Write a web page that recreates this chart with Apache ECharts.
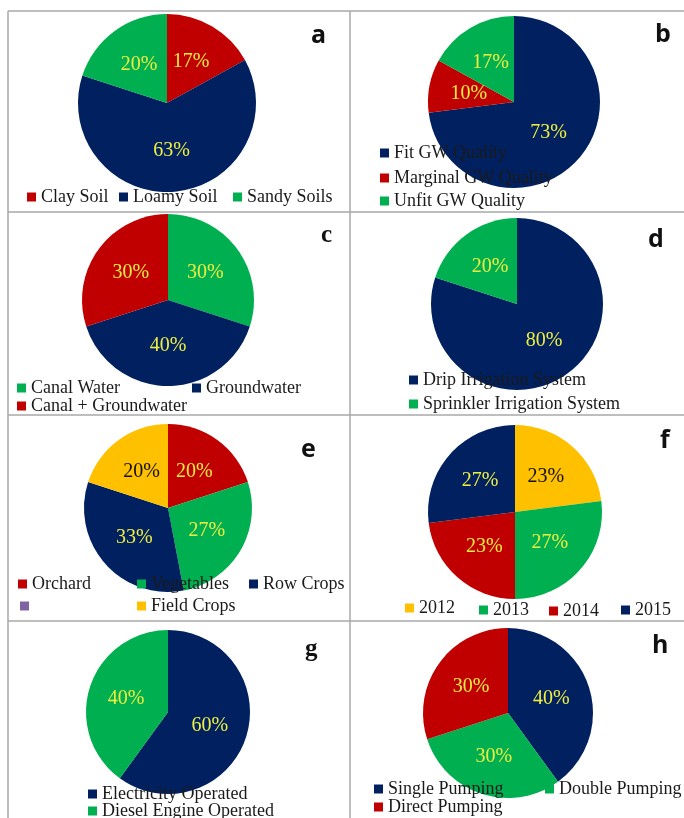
<!DOCTYPE html>
<html>
<head>
<meta charset="utf-8">
<title>Pie panels a-h</title>
<script src="https://cdn.jsdelivr.net/npm/echarts@6/dist/echarts.min.js"></script>
<style>
  html, body { margin: 0; padding: 0; background: #fff; }
  #main { width: 684px; height: 818px; }
</style>
</head>
<body>
<div id="main"></div>
<script>
// colours
var NAVY = '#002060', RED = '#C00000', GREEN = '#00B050', GOLD = '#FFC000', PURPLE = '#8064A2';

// a - soil
var soilNames = ['Clay Soil', 'Loamy Soil', 'Sandy Soils'];
var soilValues = [17, 63, 20];
var soilColors = [RED, NAVY, GREEN];

// b - groundwater quality
var gwNames = ['Fit GW Quality', 'Marginal GW Quality', 'Unfit GW Quality'];
var gwValues = [73, 10, 17];
var gwColors = [NAVY, RED, GREEN];

// c - water source
var srcNames = ['Canal Water', 'Groundwater', 'Canal + Groundwater'];
var srcValues = [30, 40, 30];
var srcColors = [GREEN, NAVY, RED];

// d - irrigation system
var irrNames = ['Drip Irrigation System', 'Sprinkler Irrigation System'];
var irrValues = [80, 20];
var irrColors = [NAVY, GREEN];

// e - crops (the purple entry is empty in the source)
var cropNames = ['Orchard', 'Vegetables', 'Row Crops', ' ', 'Field Crops'];
var cropValues = [20, 27, 33, 0, 20];
var cropColors = [RED, GREEN, NAVY, PURPLE, GOLD];

// f - years
var yearNames = ['2012', '2013', '2014', '2015'];
var yearValues = [23, 27, 23, 27];
var yearColors = [GOLD, GREEN, RED, NAVY];

// g - pump power
var powerNames = ['Electricity Operated', 'Diesel Engine Operated'];
var powerValues = [60, 40];
var powerColors = [NAVY, GREEN];

// h - pumping type
var pumpNames = ['Single Pumping', 'Double Pumping', 'Direct Pumping'];
var pumpValues = [40, 30, 30];
var pumpColors = [NAVY, GREEN, RED];

// panel layout: pie centre/radius, letter spot, legend item spots [markerX, centreY]
var panels = [
  { letter: 'a', names: soilNames, values: soilValues, colors: soilColors, center: [167, 103], r: 89,
    tag: [318, 38], legend: [[27, 198], [119, 198], [233, 198]] },
  { letter: 'b', names: gwNames, values: gwValues, colors: gwColors, center: [514, 102], r: 86,
    tag: [662, 37], legend: [[380, 154], [380, 179], [380, 202]] },
  { letter: 'c', names: srcNames, values: srcValues, colors: srcColors, center: [168, 300], r: 86,
    tag: [328, 238], legend: [[17, 389], [192, 389], [17, 407]], serifTag: true },
  { letter: 'd', names: irrNames, values: irrValues, colors: irrColors, center: [517, 304], r: 86,
    tag: [655, 242], legend: [[409, 381], [409, 405]] },
  { letter: 'e', names: cropNames, values: cropValues, colors: cropColors, center: [168, 508], r: 84,
    tag: [308, 452], legend: [[18, 585], [137, 585], [249, 585], [20, 607], [137, 607]] },
  { letter: 'f', names: yearNames, values: yearValues, colors: yearColors, center: [515, 512], r: 87,
    tag: [667, 443], legend: [[405, 609], [479, 611], [549, 612], [621, 611]] },
  { letter: 'g', names: powerNames, values: powerValues, colors: powerColors, center: [168, 712], r: 82,
    tag: [312, 652], legend: [[88, 795], [88, 812]], serifTag: true },
  { letter: 'h', names: pumpNames, values: pumpValues, colors: pumpColors, center: [508, 713], r: 85,
    tag: [659, 648], legend: [[374, 790], [545, 790], [374, 808]] }
];

var serif = 'Liberation Serif';
var series = [], legends = [], graphics = [];

panels.forEach(function (p) {
  series.push({
    type: 'pie',
    center: p.center,
    radius: p.r,
    startAngle: 90,
    clockwise: true,
    silent: true,
    animation: false,
    label: { show: true, position: 'inside', formatter: '{c}%', fontFamily: serif, fontSize: 20, color: '#eeee40' },
    labelLine: { show: false },
    itemStyle: { borderWidth: 0 },
    data: p.names.map(function (n, i) {
      var item = { name: n, value: p.values[i], itemStyle: { color: p.colors[i] } };
      if (p.colors[i] === GOLD) item.label = { color: '#111' };
      if (p.values[i] === 0) item.label = { show: false };
      return item;
    })
  });
  p.names.forEach(function (n, i) {
    var pos = p.legend[i];
    legends.push({
      left: pos[0], top: pos[1] - 10,
      data: [n], icon: 'rect', itemWidth: 9, itemHeight: 9, itemTextGap: 6, padding: 0,
      selectedMode: false,
      textStyle: { fontFamily: serif, fontSize: 18, color: '#1a1a1a' }
    });
  });
  graphics.push({
    type: 'text', left: p.tag[0] - 7, top: p.tag[1] - 15, z: 10,
    style: { text: p.letter, fill: '#111', font: p.serifTag ? 'bold 25px "Liberation Serif"' : 'bold 25px "Open Sans"' }
  });
});

// frame lines of the 2x4 grid
var lineStyle = { stroke: '#a8a8a8', lineWidth: 1.5 };
[11, 212, 415, 621].forEach(function (y) {
  graphics.push({ type: 'line', shape: { x1: 8, y1: y, x2: 684, y2: y }, style: lineStyle, silent: true });
});
[8, 350].forEach(function (x) {
  graphics.push({ type: 'line', shape: { x1: x, y1: 11, x2: x, y2: 818 }, style: lineStyle, silent: true });
});

var chart = echarts.init(document.getElementById('main'), null, { renderer: 'canvas' });
chart.setOption({
  animation: false,
  legend: legends,
  series: series,
  graphic: graphics
});
</script>
</body>
</html>
